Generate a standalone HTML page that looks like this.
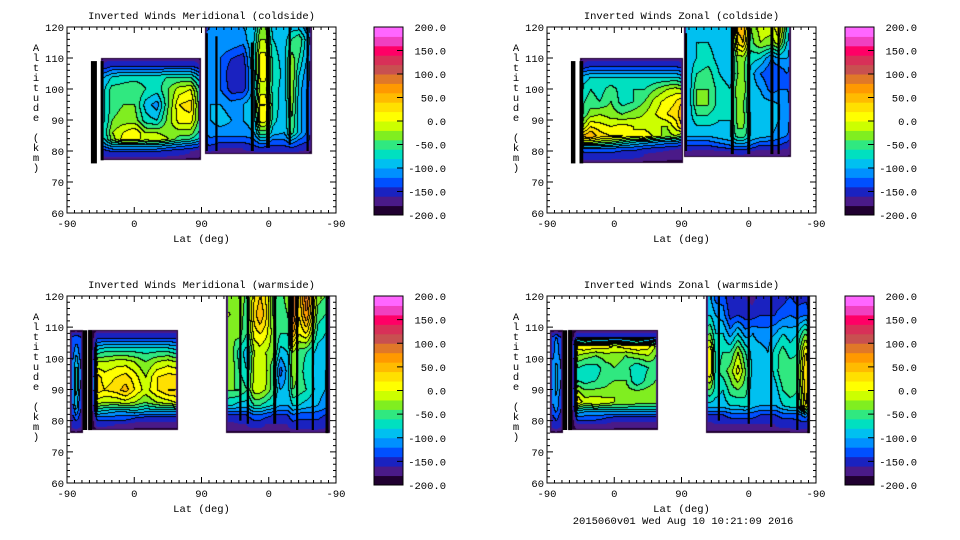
<!DOCTYPE html>
<html><head><meta charset="utf-8">
<style>
body{margin:0;background:#fff;width:960px;height:540px;overflow:hidden;position:relative;font-family:"Liberation Mono",monospace;}
canvas{position:absolute;}
svg{position:absolute;left:0;top:0;}
text{font-family:"Liberation Mono",monospace;font-size:10.5px;fill:#000;}
</style></head>
<body>
<svg id="ax" width="960" height="540"></svg>
<script>
// ===== data =====
const colorTicks=[200,150,100,50,0,-50,-100,-150,-200];
const bandColors=["#200030","#4a1a88","#1a22c0","#0050ff","#0090ff","#00c0f0","#00e0c0","#30e880","#80ee20","#ccff00","#ffff00","#ffe000","#ffbb00","#ff9900","#e07828","#c85050","#d83058","#ff0066","#f040c0","#ff66ff"];
const yTicks=[60,70,80,90,100,110,120];
const xTickLabels=["-90","0","90","0","-90"];

const tlB_lats=[45,50,60,75,90,105,120,135,150,165,175,179];
const tlB_alts=[110,108,104,100,95,90,86,84,82,80,77];
const tlB_vals=[
[-200,-200,-200,-200,-200,-200,-200,-200,-200,-200,-200,-200],
[-200,-160,-150,-150,-150,-150,-150,-150,-150,-150,-160,-200],
[-200,-100,-80,-70,-70,-70,-70,-60,-60,-60,-90,-200],
[-200,-80,-50,-50,-40,-60,-70,-40,-10,0,-50,-200],
[-200,-80,-50,-40,-40,-90,-110,-40,20,30,-40,-200],
[-200,-80,-40,-30,-30,-70,-80,-30,10,10,-40,-200],
[-200,-70,-20,0,20,-20,-20,-30,-30,-30,-60,-200],
[-200,-80,-30,10,10,-10,0,-20,-50,-60,-80,-200],
[-200,-110,-90,-90,-90,-90,-90,-100,-110,-120,-130,-200],
[-200,-150,-140,-140,-140,-140,-140,-150,-155,-160,-165,-200],
[-200,-200,-200,-200,-200,-200,-200,-200,-200,-200,-200,-200]];
const tlC_lats=[185,192,205,220,235,250,258,265,275,290,300,310,320,328];
const tlC_alts=[120,116,110,105,100,95,90,86,83,81,79];
const tlC_vals=[
[-130,-120,-110,-100,-100,-90,-40,-40,-90,-100,-90,-90,-110,-200],
[-130,-110,-100,-100,-110,-80,-20,-20,-80,-90,-60,-40,-90,-200],
[-120,-110,-120,-140,-150,-70,10,10,-70,-90,-30,-60,-100,-200],
[-140,-100,-120,-160,-160,-80,10,10,-60,-90,-20,-80,-110,-200],
[-140,-110,-120,-150,-150,-90,-10,-10,-70,-90,-20,-90,-120,-200],
[-130,-100,-100,-110,-100,-80,20,20,-60,-100,-30,-90,-120,-200],
[-130,-100,-90,-100,-100,-90,10,10,-70,-100,-40,-90,-120,-200],
[-140,-110,-110,-110,-110,-100,-50,-50,-90,-100,-50,-90,-120,-200],
[-150,-130,-140,-140,-140,-130,-110,-110,-130,-130,-110,-130,-140,-200],
[-165,-150,-160,-160,-160,-150,-145,-150,-150,-150,-145,-150,-160,-200],
[-200,-200,-200,-200,-200,-200,-200,-200,-200,-200,-200,-200,-200,-200]];
const tlStripes=[[36,76,109,8],[47,77,109,4],[187,80,118,3],[200,80,117,3],[248,80,115,4],[269,81,120,5],[298,82,120,3],[322,80,120,3]];

const trB_lats=[44,50,58,70,85,100,115,130,145,160,172,180,182];
const trB_alts=[110,108,104,100,96,92,88,85,83,81,79,76];
const trB_vals=[
[-200,-200,-200,-200,-200,-200,-200,-200,-200,-200,-200,-200,-200],
[-200,-160,-150,-150,-150,-150,-150,-150,-150,-150,-150,-160,-200],
[-200,-90,-80,-80,-80,-80,-80,-80,-80,-80,-80,-90,-200],
[-200,-70,-60,-70,-50,-70,-60,-60,-40,-20,-10,-20,-200],
[-200,-60,-50,-60,-40,-70,-60,-40,-10,10,20,40,-200],
[-200,-50,-30,-20,-30,-40,-30,-20,0,20,30,60,-200],
[-200,-10,20,10,0,10,0,-10,-20,-20,10,40,-200],
[-200,50,60,30,20,20,0,20,-10,-30,-20,-40,-200],
[-200,-20,-20,-30,-40,-60,-80,-90,-100,-110,-110,-120,-200],
[-200,-120,-120,-120,-120,-130,-130,-140,-145,-150,-155,-160,-200],
[-200,-150,-150,-150,-150,-155,-155,-160,-165,-170,-175,-175,-200],
[-200,-200,-200,-200,-200,-200,-200,-200,-200,-200,-200,-200,-200]];
const trC_lats=[183,190,200,215,230,245,255,262,272,285,300,310,320,327];
const trC_alts=[120,115,110,105,100,95,90,85,82,80,78];
const trC_vals=[
[-80,-90,-90,-90,-90,-90,50,60,-40,-10,-10,20,-60,-200],
[-80,-90,-80,-80,-90,-90,20,40,-50,-20,-30,-10,-80,-200],
[-70,-90,-80,-70,-90,-90,-30,-30,-70,-80,-120,-100,-100,-200],
[-70,-90,-60,-50,-80,-90,-40,-30,-90,-120,-140,-140,-120,-200],
[-60,-90,-40,-40,-70,-80,-20,-20,-90,-100,-130,-120,-120,-200],
[-60,-90,-40,-40,-70,-80,-30,-40,-90,-90,-90,-100,-110,-200],
[-70,-90,-70,-70,-80,-80,-30,-30,-80,-80,-90,-100,-110,-200],
[-90,-100,-100,-100,-90,-80,-50,-50,-80,-90,-100,-110,-120,-200],
[-130,-140,-140,-140,-130,-120,-110,-110,-120,-140,-140,-140,-150,-200],
[-160,-160,-165,-165,-160,-160,-150,-150,-160,-165,-165,-165,-165,-200],
[-200,-200,-200,-200,-200,-200,-200,-200,-200,-200,-200,-200,-200,-200]];
const trStripes=[[35,76,109,6],[46,76,109,5],[186,80,118,3],[248,79,120,4],[270,79,120,4],[301,79,120,4],[310,79,120,3]];

const blA_lats=[4,8,12,16,21];
const blA_alts=[109,105,95,85,80,76];
const blA_vals=[[-200,-200,-200,-200,-200],[-200,-130,-120,-130,-200],[-200,-110,-60,-110,-200],[-200,-120,-80,-130,-200],[-200,-150,-140,-150,-200],[-200,-200,-200,-200,-200]];
const blB_lats=[28,33,40,50,65,78,90,105,120,135,145,149];
const blB_alts=[109,107,103,99,94,90,86,83,81,79,77];
const blB_vals=[
[-200,-200,-200,-200,-200,-200,-200,-200,-200,-200,-200,-200],
[-200,-200,-150,-150,-150,-150,-150,-150,-150,-150,-150,-200],
[-200,-200,-80,-70,-70,-70,-70,-70,-70,-70,-80,-200],
[-200,-200,-20,-20,-10,-10,-20,-40,-20,-10,-20,-200],
[-200,-200,30,10,20,30,10,-20,20,30,30,-200],
[-200,-200,30,20,30,50,20,-10,20,40,40,-200],
[-200,-200,-10,-20,-20,-10,-20,-40,-20,-10,0,-200],
[-200,-200,-80,-90,-100,-100,-90,-100,-100,-100,-100,-200],
[-200,-200,-130,-130,-130,-130,-140,-150,-150,-150,-150,-200],
[-200,-200,-155,-155,-160,-160,-165,-165,-165,-165,-165,-200],
[-200,-200,-200,-200,-200,-200,-200,-200,-200,-200,-200,-200]];
const blC_lats=[213,220,230,240,250,258,265,275,285,295,302,310,320,335,345,352];
const blC_alts=[120,114,108,102,96,90,85,82,79,76];
const blC_vals=[
[-20,-30,-20,-50,20,40,20,-40,-50,-30,110,30,100,-30,-40,-200],
[-10,-20,-30,-50,30,60,30,-40,-50,-40,110,20,80,-50,-60,-200],
[-20,-40,-30,-60,10,20,10,-30,-60,-60,60,0,20,-70,-80,-200],
[-30,-30,-70,-90,-20,-10,-20,-30,-90,-80,-20,-50,-60,-90,-90,-200],
[-20,-30,-60,-80,-10,0,-10,-60,-130,-90,-20,-50,-70,-90,-100,-200],
[-30,-40,-40,-60,-10,-10,-20,-50,-100,-90,-40,-50,-60,-90,-100,-200],
[-80,-80,-90,-90,-60,-60,-70,-80,-100,-100,-80,-80,-90,-100,-110,-200],
[-140,-140,-140,-140,-120,-120,-130,-140,-140,-140,-120,-130,-130,-130,-140,-200],
[-165,-165,-160,-160,-155,-155,-160,-160,-160,-160,-150,-150,-150,-150,-155,-200],
[-200,-200,-200,-200,-200,-200,-200,-200,-200,-200,-200,-200,-200,-190,-200,-200]];
const blStripes=[[24,77,109,6],[31,77,109,5],[232,80,120,3],[242,79,120,3],[278,79,120,4],[308,77,120,3],[329,77,120,3],[348,76,120,4]];

const brA_lats=[4,8,12,16,21];
const brA_alts=[109,105,95,85,80,76];
const brA_vals=[[-200,-200,-200,-200,-200],[-200,-130,-110,-130,-200],[-200,-110,-90,-110,-200],[-200,-120,-100,-130,-200],[-200,-150,-140,-150,-200],[-200,-200,-200,-200,-200]];
const brB_lats=[28,33,40,50,65,78,90,105,120,135,145,149];
const brB_alts=[109,107,104,101,97,93,89,86,83,81,79,77];
const brB_vals=[
[-200,-200,-200,-200,-200,-200,-200,-200,-200,-200,-200,-200],
[-200,-200,-150,-150,-150,-150,-150,-150,-150,-150,-150,-200],
[-200,-200,10,20,10,10,0,10,20,10,-20,-200],
[-200,-200,-20,-30,-40,-30,-30,-40,-30,-20,-40,-200],
[-200,-200,-60,-70,-70,-50,-40,-50,-80,-60,-50,-200],
[-200,-200,-60,-70,-60,-50,-40,-40,-80,-50,-40,-200],
[-200,-200,-10,-30,-30,-30,-20,-30,-30,-30,-30,-200],
[-200,-200,20,-10,0,-10,-20,-20,-30,-30,-30,-200],
[-200,-200,-90,-100,-100,-100,-100,-100,-100,-100,-100,-200],
[-200,-200,-130,-130,-130,-140,-150,-150,-150,-150,-150,-200],
[-200,-200,-160,-160,-160,-160,-165,-165,-165,-165,-165,-200],
[-200,-200,-200,-200,-200,-200,-200,-200,-200,-200,-200,-200]];
const brC_lats=[213,218,225,235,245,255,265,275,285,295,305,315,325,335,345,352];
const brC_alts=[120,114,108,102,96,90,85,82,79,76];
const brC_vals=[
[-110,-100,-130,-130,-160,-150,-160,-170,-150,-150,-150,-150,-140,-150,-150,-200],
[-100,-80,-100,-110,-150,-140,-150,-150,-140,-140,-140,-130,-120,-130,-120,-200],
[-70,-40,-80,-80,-110,-80,-110,-100,-110,-110,-100,-80,-90,-80,-40,-200],
[-60,20,-70,-60,-60,-20,-60,-90,-90,-100,-70,-50,-70,-60,20,-200],
[-60,20,-70,-50,-30,10,-40,-90,-90,-100,-70,-40,-40,-50,40,-200],
[-70,-40,-70,-80,-50,-40,-50,-100,-100,-100,-90,-60,-50,-60,30,-200],
[-90,-90,-90,-90,-80,-80,-70,-90,-100,-100,-100,-80,-70,-70,20,-200],
[-140,-140,-140,-140,-130,-130,-130,-130,-140,-140,-140,-130,-130,-130,-110,-200],
[-165,-165,-160,-160,-160,-160,-160,-160,-160,-160,-160,-155,-155,-150,-150,-200],
[-200,-200,-200,-200,-200,-200,-200,-200,-200,-200,-200,-200,-200,-190,-200,-200]];
const brStripes=[[24,77,109,6],[31,77,109,5],[230,80,120,3],[270,79,120,3],[300,78,120,3],[335,77,120,3],[350,76,120,3]];

// ===== layout =====
const panels=[
 {name:"meridional-coldside",title:"Inverted Winds Meridional (coldside)",x0:67,x1:336,y0:27,y1:213,cb:374,
  blocks:[[tlB_lats,tlB_alts,tlB_vals],[tlC_lats,tlC_alts,tlC_vals]],stripes:tlStripes},
 {name:"zonal-coldside",title:"Inverted Winds Zonal (coldside)",x0:547,x1:816,y0:27,y1:213,cb:845,
  blocks:[[trB_lats,trB_alts,trB_vals],[trC_lats,trC_alts,trC_vals]],stripes:trStripes},
 {name:"meridional-warmside",title:"Inverted Winds Meridional (warmside)",x0:67,x1:336,y0:296,y1:483,cb:374,
  blocks:[[blA_lats,blA_alts,blA_vals],[blB_lats,blB_alts,blB_vals],[blC_lats,blC_alts,blC_vals]],stripes:blStripes},
 {name:"zonal-warmside",title:"Inverted Winds Zonal (warmside)",x0:547,x1:816,y0:296,y1:483,cb:845,
  blocks:[[brA_lats,brA_alts,brA_vals],[brB_lats,brB_alts,brB_vals],[brC_lats,brC_alts,brC_vals]],stripes:brStripes}
];
const NS="http://www.w3.org/2000/svg";
const svg=document.getElementById('ax');
function mk(tag,attrs,parent){const e=document.createElementNS(NS,tag);for(const k in attrs)e.setAttribute(k,attrs[k]);(parent||svg).appendChild(e);return e;}
function hexRGB(h){return [parseInt(h.substr(1,2),16),parseInt(h.substr(3,2),16),parseInt(h.substr(5,2),16)];}
const rgb=bandColors.map(hexRGB);
function seg(arr,v,desc){for(let i=0;i<arr.length-1;i++){const a=arr[i],b=arr[i+1];if(desc?(v<=a&&v>=b):(v>=a&&v<=b)){return [i,(v-a)/(b-a)];}}return null;}
function sample(bl,lat,alt){
 const [lats,alts,vals]=bl;
 const sx=seg(lats,lat,false),sy=seg(alts,alt,true);
 if(!sx||!sy)return null;
 let [i,tx]=sx,[j,ty]=sy;
 const nR=alts.length,nC=lats.length;
 if(j===nR-2)ty=Math.pow(ty,3);
 if(j===0&&vals[0].every(v=>v<=-190))ty=1-Math.pow(1-ty,3);
 if(i===nC-2)tx=Math.pow(tx,3);
 if(i===0)tx=1-Math.pow(1-tx,3);
 const v00=vals[j][i],v01=vals[j][i+1],v10=vals[j+1][i],v11=vals[j+1][i+1];
 return (v00*(1-tx)+v01*tx)*(1-ty)+(v10*(1-tx)+v11*tx)*ty;
}
function band(v){let b=Math.floor((v+200)/20);return Math.max(0,Math.min(19,b));}

panels.forEach(p=>{
 const W=p.x1-p.x0,H=p.y1-p.y0;
 const xs=lat=>p.x0+lat/360*W;
 const ys=alt=>p.y0+(120-alt)/60*H;
 const cv=document.createElement('canvas');
 cv.width=W;cv.height=H;cv.style.left=p.x0+'px';cv.style.top=p.y0+'px';
 
 
 document.body.insertBefore(cv,svg);
 const ctx=cv.getContext('2d');
 const img=ctx.createImageData(W,H);
 const bands=new Int16Array(W*H).fill(-1);
 for(let y=0;y<H;y++)for(let x=0;x<W;x++){
  const lat=(x+0.5)/W*360,alt=120-(y+0.5)/H*60;
  for(const bl of p.blocks){const v=sample(bl,lat,alt);if(v!==null){bands[y*W+x]=band(v);break;}}
 }
 const inside=(x,y)=>x>=0&&y>=0&&x<W&&y<H?bands[y*W+x]>=0:(y<0);
 const fin=new Int16Array(bands);
 for(let y=0;y<H;y++)for(let x=0;x<W;x++){
  if(bands[y*W+x]<0)continue;
  if(!inside(x-1,y)||!inside(x+1,y)||!inside(x,y-1)||!inside(x,y+1))fin[y*W+x]=0;
  else if(!inside(x-2,y)||!inside(x+2,y)||!inside(x,y-2)||!inside(x,y+2))fin[y*W+x]=Math.min(1,bands[y*W+x]);
 }
 for(let y=0;y<H;y++)for(let x=0;x<W;x++){
  const b=fin[y*W+x];if(b<0)continue;
  let c=rgb[b];
  const l=x>0?fin[y*W+x-1]:-1,u=y>0?fin[(y-1)*W+x]:-1;
  if(b>1&&((l>1&&l!==b)||(u>1&&u!==b)))c=[0,0,0];
  const k=(y*W+x)*4;img.data[k]=c[0];img.data[k+1]=c[1];img.data[k+2]=c[2];img.data[k+3]=255;
 }
 ctx.putImageData(img,0,0);
 const g=mk('g',{});
 
 
 p.stripes.forEach(s=>{
  const r=mk('rect',{x:xs(s[0]-s[3]/2),y:ys(s[2]),width:s[3]/360*W,height:ys(s[1])-ys(s[2]),fill:'#000'},g);
  
  
 });
 const fr=mk('rect',{x:p.x0,y:p.y0,width:W,height:H,fill:'none',stroke:'#000','stroke-width':1},g);
 
 
 let d='';
 for(let a=60;a<=120;a+=2){const y=ys(a),L=(a%10===0)?6:3;d+=`M${p.x0},${y}h${L}M${p.x1},${y}h${-L}`;}
 for(let l=0;l<=360;l+=10){const x=xs(l),L=(l%90===0)?6:3;d+=`M${x},${p.y1}v${-L}M${x},${p.y0}v${L}`;}
 mk('path',{d:d,stroke:'#000','stroke-width':1,fill:'none'},g);
 yTicks.forEach(a=>{
  const t=mk('text',{x:p.x0-3,y:ys(a)+4,'text-anchor':'end'},g);t.textContent=a;
  
  
 });
 xTickLabels.forEach((s,i)=>{
  const t=mk('text',{x:xs(i*90),y:p.y1+14,'text-anchor':'middle'},g);t.textContent=s;
  
  
 });
 const xt=mk('text',{x:(p.x0+p.x1)/2,y:p.y1+29,'text-anchor':'middle'},g);xt.textContent='Lat (deg)';
 
 
 const tt=mk('text',{x:(p.x0+p.x1)/2,y:p.y0-8,'text-anchor':'middle'},g);tt.textContent=p.title;
 
 
 const yt=mk('text',{x:p.x0-31,y:p.y0+24,'text-anchor':'middle'},g);
 
 
 "Altitude (km)".split('').forEach((ch,i)=>{const ts=mk('tspan',{x:p.x0-31,y:p.y0+24+i*10},yt);ts.textContent=ch;});
 const cbW=29,cbH=H+2;
 const cy=v=>p.y0+(200-v)/400*cbH;
 const cg=mk('g',{});
 
 
 bandColors.forEach((c,i)=>{
  const lo=-200+i*20;
  const r=mk('rect',{x:p.cb,y:cy(lo+20),width:cbW,height:cy(lo)-cy(lo+20)+0.5,fill:c},cg);
  
  
 });
 mk('rect',{x:p.cb,y:p.y0,width:cbW,height:cbH,fill:'none',stroke:'#000'},cg);
 colorTicks.forEach(v=>{
  if(v>-200&&v<200)mk('path',{d:`M${p.cb+cbW},${cy(v)}h-6`,stroke:'#000'},cg);
  const t=mk('text',{x:p.cb+72,y:cy(v)+4,'text-anchor':'end'},cg);t.textContent=v.toFixed(1);
  
  
 });
});
const ft=mk('text',{x:683,y:524,'text-anchor':'middle'});ft.textContent='2015060v01 Wed Aug 10 10:21:09 2016';


</script>
</body></html>
